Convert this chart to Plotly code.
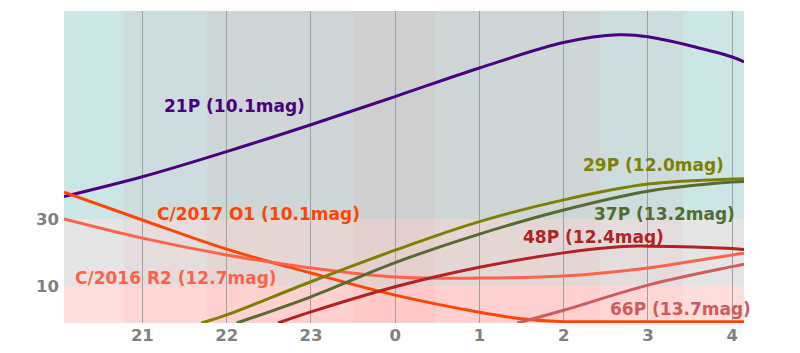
import plotly.graph_objects as go

# ---- data (hours continuous past midnight: 24 = 0h, 28 = 4h) ----
tick_vals = [21, 22, 23, 24, 25, 26, 27, 28]
tick_text = ["21", "22", "23", "0", "1", "2", "3", "4"]
y_tick_vals = [10, 30]
y_tick_text = ["10", "30"]

h_21P = [20.07, 21, 22, 23, 24, 25, 26, 26.65, 27, 28, 28.14]
a_21P = [36.7, 42.6, 50.1, 58.1, 66.5, 75.0, 82.6, 84.9, 84.3, 78.3, 76.8]

h_O1 = [20.07, 21, 22, 23, 24, 25, 25.5, 26, 26.5, 27, 27.5, 28, 28.14]
a_O1 = [38.0, 29.7, 21.0, 13.9, 7.3, 2.2, 0.3, -0.6, -0.6, -0.6, -0.6, -0.6, -0.6]

h_R2 = [20.07, 21, 22, 23, 24, 25, 26, 27, 28, 28.14]
a_R2 = [30.0, 24.3, 19.3, 15.4, 12.7, 12.4, 13.0, 15.4, 19.3, 19.8]

h_29P = [21.70, 22, 23, 24, 25, 26, 27, 28, 28.14]
a_29P = [-1.0, 1.4, 11.3, 20.7, 29.2, 35.7, 40.4, 41.9, 42.0]

h_37P = [22.12, 23, 24, 25, 26, 27, 28, 28.14]
a_37P = [-1.0, 6.8, 17.0, 25.5, 32.7, 38.3, 41.0, 41.2]

h_48P = [22.61, 23, 24, 25, 26, 26.7, 27, 28, 28.14]
a_48P = [-1.0, 2.3, 9.8, 15.6, 19.9, 21.8, 21.9, 21.2, 20.9]

h_66P = [25.45, 26, 27, 28, 28.14]
a_66P = [-1.0, 2.8, 10.3, 15.8, 16.5]

series = [
    ("21P (10.1mag)", h_21P, a_21P, "#4b0082", 22.09, 63.7),
    ("C/2017 O1 (10.1mag)", h_O1, a_O1, "#ff4500", 22.38, 31.6),
    ("C/2016 R2 (12.7mag)", h_R2, a_R2, "#ff6347", 21.40, 12.3),
    ("29P (12.0mag)", h_29P, a_29P, "#808000", 27.07, 46.1),
    ("37P (13.2mag)", h_37P, a_37P, "#556b2f", 27.20, 31.6),
    ("48P (12.4mag)", h_48P, a_48P, "#b22222", 26.35, 24.6),
    ("66P (13.7mag)", h_66P, a_66P, "#cd5c5c", 27.39, 3.3),
]

# altitude bands and twilight bands
alt_bands = [(30, 92, "#cce5e5"), (10, 30, "#e5e5e5"), (-1, 10, "#ffdede")]
twilight = [(20.775, 27.42), (21.77, 26.43), (23.5, 24.475)]

x_range = [20.07, 28.14]
y_range = [-1, 92]

fig = go.Figure()
for name, h, a, col, lx, ly in series:
    fig.add_trace(go.Scatter(x=h, y=a, mode="lines", name=name,
                             line=dict(color=col, width=3, shape="spline", smoothing=1.0),
                             showlegend=False, hoverinfo="skip"))
    fig.add_annotation(x=lx, y=ly, xref="x", yref="y", text=name, showarrow=False,
                       font=dict(family="DejaVu Sans", size=17, color=col, weight="bold"),
                       xanchor="center", yanchor="middle")

for y0, y1, c in alt_bands:
    fig.add_shape(type="rect", xref="paper", yref="y", x0=0, x1=1, y0=y0, y1=y1,
                  fillcolor=c, line=dict(width=0), layer="below")
for x0, x1 in twilight:
    fig.add_shape(type="rect", xref="x", yref="paper", x0=x0, x1=x1, y0=0, y1=1,
                  fillcolor="rgba(255,0,0,0.03)", line=dict(width=0), layer="below")

tick_font = dict(family="DejaVu Sans", size=16.5, color="#808080", weight="bold")
fig.update_layout(
    width=800, height=353,
    margin=dict(l=64, r=56, t=11, b=30),
    paper_bgcolor="white", plot_bgcolor="white",
    xaxis=dict(range=x_range, tickvals=tick_vals, ticktext=tick_text, showgrid=True,
               gridcolor="#a0a0a0", gridwidth=1, zeroline=False, showline=False,
               tickfont=tick_font, ticks="", ticklabelstandoff=0, automargin=False),
    yaxis=dict(range=y_range, tickvals=y_tick_vals, ticktext=y_tick_text, showgrid=False,
               zeroline=False, showline=False, tickfont=tick_font, ticks="",
               ticklabelstandoff=4, automargin=False),
)
fig.write_html("out.html")
